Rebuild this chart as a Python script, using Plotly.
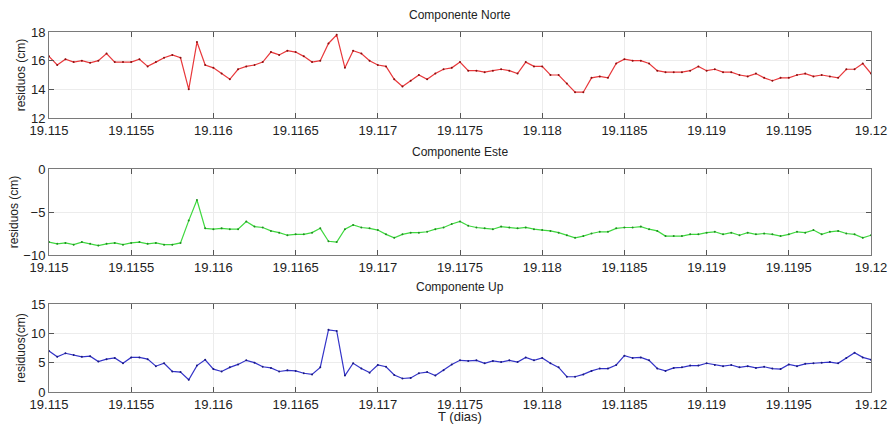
import numpy as np
import plotly.graph_objects as go

# time axis (days), 1 sample every 0.00005 day
t_start = 19.115
t_step = 0.00005
n_pts = 101
t = [round(t_start + i * t_step, 6) for i in range(n_pts)]

norte = [16.3, 15.7, 16.1, 15.9, 16.0, 15.85, 16.0, 16.5, 15.9, 15.9,
         15.9, 16.1, 15.6, 15.9, 16.2, 16.4, 16.2, 14.0, 17.3, 15.7,
         15.5, 15.1, 14.7, 15.4, 15.6, 15.7, 15.9, 16.6, 16.4, 16.7,
         16.6, 16.3, 15.9, 16.0, 17.2, 17.8, 15.5, 16.7, 16.5, 16.0,
         15.7, 15.6, 14.7, 14.2, 14.6, 15.0, 14.7, 15.1, 15.4, 15.5,
         15.9, 15.3, 15.3, 15.2, 15.3, 15.4, 15.3, 15.1, 15.9, 15.6,
         15.6, 15.0, 15.0, 14.4, 13.8, 13.8, 14.8, 14.9, 14.8, 15.8,
         16.1, 16.0, 16.0, 15.8, 15.3, 15.2, 15.2, 15.2, 15.3, 15.6,
         15.3, 15.4, 15.2, 15.2, 15.0, 14.9, 15.1, 14.8, 14.6, 14.8,
         14.8, 15.0, 15.1, 14.9, 15.0, 14.9, 14.8, 15.4, 15.4, 15.8,
         15.1]

este = [-8.5, -8.7, -8.6, -8.8, -8.5, -8.7, -8.9, -8.7, -8.6, -8.8,
        -8.6, -8.5, -8.7, -8.6, -8.8, -8.8, -8.6, -6.0, -3.6, -6.9,
        -7.0, -6.9, -7.0, -7.0, -6.1, -6.7, -6.8, -7.2, -7.4, -7.7,
        -7.6, -7.6, -7.4, -6.9, -8.4, -8.5, -7.0, -6.5, -6.8, -6.9,
        -7.1, -7.6, -8.0, -7.6, -7.4, -7.4, -7.3, -7.0, -6.8, -6.4,
        -6.1, -6.6, -6.8, -6.9, -7.0, -6.7, -6.8, -6.9, -6.8, -7.0,
        -7.1, -7.2, -7.4, -7.7, -8.0, -7.8, -7.5, -7.3, -7.3, -6.9,
        -6.8, -6.8, -6.7, -7.0, -7.2, -7.8, -7.8, -7.8, -7.6, -7.6,
        -7.4, -7.3, -7.6, -7.4, -7.7, -7.4, -7.6, -7.5, -7.6, -7.8,
        -7.6, -7.3, -7.4, -7.1, -7.6, -7.3, -7.2, -7.5, -7.6, -8.0,
        -7.7]

up = [7.0, 6.0, 6.6, 6.3, 6.0, 6.1, 5.2, 5.6, 5.8, 4.9,
      5.9, 5.9, 5.6, 4.4, 4.9, 3.5, 3.4, 2.1, 4.5, 5.5,
      3.9, 3.5, 4.2, 4.7, 5.4, 5.0, 4.3, 4.1, 3.5, 3.7,
      3.6, 3.2, 3.0, 4.2, 10.6, 10.4, 2.8, 4.9, 4.0, 3.3,
      4.6, 4.3, 2.9, 2.3, 2.4, 3.2, 3.4, 2.8, 3.7, 4.7,
      5.4, 5.3, 5.4, 4.9, 5.3, 5.1, 5.4, 5.1, 5.9, 5.4,
      5.8, 4.9, 4.2, 2.6, 2.6, 3.0, 3.6, 4.0, 4.0, 4.6,
      6.2, 5.8, 5.9, 5.4, 4.0, 3.6, 4.1, 4.2, 4.5, 4.5,
      4.9, 4.6, 4.4, 4.6, 4.2, 4.4, 4.1, 4.3, 4.0, 3.9,
      4.7, 4.4, 4.8, 4.9, 5.0, 5.1, 4.9, 5.8, 6.7, 5.9,
      5.5]

x_tickvals = [19.115, 19.1155, 19.116, 19.1165, 19.117, 19.1175,
              19.118, 19.1185, 19.119, 19.1195, 19.12]
x_ticktext = ["19.115", "19.1155", "19.116", "19.1165", "19.117", "19.1175",
              "19.118", "19.1185", "19.119", "19.1195", "19.12"]

panel_titles = ["Componente Norte", "Componente Este", "Componente Up"]
y_titles = ["residuos (cm)", "residuos (cm)", "residuos(cm)"]
y_ranges = [[12, 18], [-10, 0], [0, 15]]
y_ticks = [[12, 14, 16, 18], [-10, -5, 0], [0, 5, 10, 15]]
series = [norte, este, up]
line_colors = ["#e8383b", "#3fd83f", "#3333c8"]
marker_colors = ["#8a1010", "#1f8f1f", "#1a1a80"]

W, H = 890, 427

def fx(px):
    return px / W

def fy(py):
    return 1 - py / H

x0, x1 = fx(49), fx(871)
ydoms = [[fy(118), fy(32)], [fy(255), fy(169)], [fy(392), fy(304)]]

FONT = "Liberation Sans, Arial, sans-serif"

fig = go.Figure()
for i in range(3):
    sfx = "" if i == 0 else str(i + 1)
    fig.add_trace(go.Scatter(
        x=t, y=series[i], mode="lines+markers",
        line=dict(color=line_colors[i], width=1.2),
        marker=dict(color=marker_colors[i], size=2),
        xaxis="x" + sfx, yaxis="y" + sfx, showlegend=False,
        hoverinfo="skip"))
    axis_common = dict(
        showline=True, linecolor="#7a7a7a", linewidth=1, mirror="allticks",
        ticks="inside", ticklen=5, tickcolor="#555555", tickwidth=1,
        showgrid=True, gridcolor="#ececec", gridwidth=1, zeroline=False,
        automargin=False,
        tickfont=dict(family=FONT, size=13, color="#222222"),
    )
    fig.layout["xaxis" + sfx] = dict(
        axis_common, domain=[x0, x1], range=[19.115, 19.12],
        tickvals=x_tickvals, ticktext=x_ticktext, anchor="y" + sfx,
    )
    fig.layout["yaxis" + sfx] = dict(
        axis_common, domain=ydoms[i], range=y_ranges[i], tickvals=y_ticks[i],
        anchor="x" + sfx,
        title=dict(text=y_titles[i], font=dict(family=FONT, size=12, color="#222222"), standoff=2),
    )
    fig.add_annotation(
        text=panel_titles[i], xref="paper", yref="paper",
        x=(x0 + x1) / 2, y=ydoms[i][1], yanchor="bottom", yshift=8,
        showarrow=False, font=dict(family=FONT, size=12, color="#222222"))

fig.add_annotation(
    text="T (dias)", xref="paper", yref="paper", x=(x0 + x1) / 2, y=fy(416),
    yanchor="middle", showarrow=False, font=dict(family=FONT, size=13, color="#222222"))

fig.update_layout(
    width=W, height=H, margin=dict(l=0, r=0, t=0, b=0),
    paper_bgcolor="white", plot_bgcolor="white",
    hovermode=False,
)

fig.write_html(
    "out.html",
    config={"displayModeBar": False, "staticPlot": True},
    post_script="document.body.style.margin='0';document.body.style.overflow='hidden';",
)
